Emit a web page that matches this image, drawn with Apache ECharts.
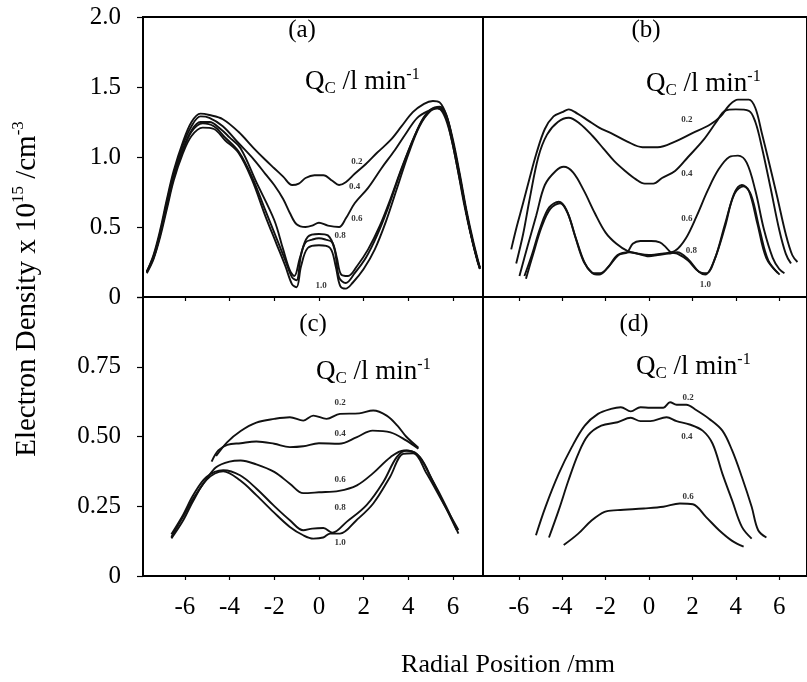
<!DOCTYPE html>
<html><head><meta charset="utf-8">
<script src="https://cdn.jsdelivr.net/npm/echarts@6/dist/echarts.min.js"></script>
<style>html,body{margin:0;padding:0;background:#fff}#c{width:807px;height:682px}</style>
</head><body><div id="c"></div>
<script>
// ---- tick values ----
const xTicks = [-6, -4, -2, 0, 2, 4, 6];

// ---- panel (a) : x (mm), electron density (1e15 /cm3) ----
const a02 = [[-7.7,0.18],[-7.4,0.30],[-7.1,0.48],[-6.8,0.70],[-6.5,0.90],[-6.1,1.10],[-5.7,1.25],[-5.3,1.31],[-4.9,1.30],[-4.3,1.27],[-3.6,1.18],[-2.9,1.06],[-2.4,0.98],[-2.0,0.92],[-1.6,0.86],[-1.2,0.80],[-0.9,0.81],[-0.6,0.85],[-0.2,0.87],[0.2,0.87],[0.6,0.83],[0.9,0.80],[1.2,0.82],[1.6,0.88],[2.1,0.95],[2.6,1.03],[3.2,1.12],[3.7,1.22],[4.2,1.32],[4.7,1.38],[5.1,1.40],[5.4,1.39],[5.7,1.30],[6.0,1.12],[6.3,0.88],[6.6,0.62],[6.9,0.40],[7.2,0.21]];
const a04 = [[-7.7,0.18],[-7.4,0.29],[-7.1,0.46],[-6.8,0.68],[-6.5,0.88],[-6.1,1.08],[-5.7,1.22],[-5.3,1.29],[-4.9,1.28],[-4.3,1.22],[-3.6,1.10],[-2.9,0.98],[-2.4,0.88],[-2.0,0.80],[-1.6,0.70],[-1.3,0.60],[-1.0,0.52],[-0.6,0.50],[-0.3,0.51],[0.0,0.53],[0.4,0.51],[0.9,0.50],[1.2,0.56],[1.6,0.67],[2.2,0.78],[2.8,0.92],[3.4,1.05],[3.9,1.17],[4.4,1.28],[4.9,1.33],[5.3,1.35],[5.6,1.30],[5.9,1.15],[6.2,0.92],[6.5,0.68],[6.8,0.45],[7.1,0.26],[7.2,0.21]];
const a06 = [[-7.7,0.18],[-7.4,0.28],[-7.1,0.45],[-6.8,0.66],[-6.5,0.86],[-6.1,1.05],[-5.7,1.19],[-5.3,1.25],[-4.9,1.25],[-4.4,1.20],[-4.0,1.14],[-3.5,1.06],[-2.8,0.82],[-2.0,0.55],[-1.6,0.34],[-1.3,0.19],[-1.1,0.15],[-0.85,0.28],[-0.6,0.39],[-0.3,0.41],[0.0,0.42],[0.3,0.41],[0.6,0.39],[0.8,0.28],[1.0,0.16],[1.3,0.15],[1.7,0.22],[2.2,0.34],[2.7,0.50],[3.2,0.70],[3.7,0.92],[4.2,1.12],[4.7,1.28],[5.2,1.35],[5.6,1.32],[5.9,1.15],[6.2,0.92],[6.5,0.66],[6.8,0.44],[7.1,0.25],[7.2,0.21]];
const a08 = [[-7.7,0.18],[-7.4,0.28],[-7.1,0.45],[-6.8,0.65],[-6.5,0.85],[-6.1,1.04],[-5.7,1.18],[-5.2,1.24],[-4.7,1.22],[-4.2,1.14],[-3.6,1.04],[-3.0,0.86],[-2.4,0.62],[-1.9,0.42],[-1.5,0.26],[-1.2,0.14],[-1.0,0.12],[-0.8,0.30],[-0.5,0.43],[0.0,0.45],[0.4,0.44],[0.7,0.34],[0.9,0.14],[1.2,0.10],[1.6,0.17],[2.1,0.28],[2.6,0.44],[3.1,0.64],[3.6,0.87],[4.1,1.08],[4.6,1.26],[5.0,1.34],[5.4,1.36],[5.7,1.30],[6.0,1.10],[6.3,0.86],[6.6,0.60],[6.9,0.38],[7.2,0.20]];
const a10 = [[-7.7,0.17],[-7.4,0.27],[-7.1,0.43],[-6.8,0.63],[-6.5,0.83],[-6.1,1.02],[-5.7,1.15],[-5.2,1.21],[-4.7,1.20],[-4.2,1.12],[-3.6,1.03],[-3.0,0.84],[-2.4,0.58],[-1.9,0.38],[-1.5,0.22],[-1.2,0.09],[-1.0,0.07],[-0.8,0.22],[-0.5,0.35],[0.0,0.37],[0.5,0.35],[0.75,0.22],[0.95,0.08],[1.2,0.06],[1.5,0.10],[2.0,0.20],[2.5,0.34],[3.0,0.54],[3.5,0.78],[4.0,1.02],[4.5,1.22],[5.0,1.33],[5.4,1.35],[5.7,1.29],[6.0,1.10],[6.3,0.86],[6.6,0.60],[6.9,0.38],[7.2,0.20]];

// ---- panel (b) ----
const b02 = [[-6.35,0.34],[-6.1,0.50],[-5.82,0.66],[-5.5,0.85],[-5.2,1.02],[-4.8,1.20],[-4.4,1.29],[-4.0,1.32],[-3.7,1.34],[-3.3,1.31],[-2.8,1.26],[-2.3,1.21],[-1.75,1.17],[-1.0,1.11],[-0.3,1.07],[0.4,1.07],[1.2,1.11],[2.0,1.17],[2.8,1.23],[3.3,1.29],[3.7,1.37],[4.1,1.41],[4.6,1.41],[4.9,1.35],[5.2,1.17],[5.5,0.98],[5.9,0.72],[6.3,0.45],[6.6,0.30],[6.84,0.25]];
const b04 = [[-6.12,0.24],[-5.8,0.45],[-5.5,0.70],[-5.1,1.00],[-4.7,1.16],[-4.2,1.25],[-3.7,1.28],[-3.2,1.24],[-2.6,1.15],[-2.1,1.06],[-1.6,0.97],[-1.1,0.90],[-0.6,0.84],[-0.2,0.81],[0.2,0.81],[0.6,0.85],[1.2,0.90],[1.8,1.00],[2.5,1.12],[3.1,1.25],[3.5,1.33],[4.0,1.34],[4.6,1.33],[4.9,1.25],[5.2,1.07],[5.6,0.78],[6.0,0.48],[6.3,0.31],[6.54,0.24]];
const b06 = [[-5.97,0.15],[-5.6,0.36],[-5.2,0.58],[-4.8,0.80],[-4.3,0.90],[-3.93,0.93],[-3.5,0.89],[-3.0,0.76],[-2.5,0.60],[-2.0,0.46],[-1.5,0.38],[-1.0,0.33],[-0.5,0.31],[0.0,0.30],[0.6,0.31],[1.2,0.33],[1.7,0.42],[2.2,0.58],[2.7,0.76],[3.2,0.91],[3.7,1.00],[4.1,1.01],[4.5,0.96],[4.9,0.76],[5.3,0.48],[5.7,0.28],[6.0,0.20],[6.24,0.17]];
const b08 = [[-5.67,0.13],[-5.35,0.30],[-4.95,0.50],[-4.55,0.63],[-4.1,0.67],[-3.75,0.60],[-3.35,0.41],[-2.95,0.24],[-2.55,0.17],[-2.25,0.17],[-1.85,0.22],[-1.4,0.30],[-1.0,0.32],[-0.75,0.38],[-0.4,0.40],[0.1,0.40],[0.5,0.39],[0.75,0.36],[1.0,0.32],[1.3,0.31],[1.8,0.26],[2.3,0.18],[2.65,0.17],[3.05,0.28],[3.5,0.52],[3.95,0.74],[4.35,0.79],[4.7,0.73],[5.1,0.48],[5.5,0.26],[6.02,0.16]];
const b10 = [[-5.74,0.15],[-5.4,0.30],[-5.0,0.50],[-4.6,0.64],[-4.16,0.68],[-3.8,0.62],[-3.4,0.43],[-3.0,0.25],[-2.6,0.17],[-2.3,0.16],[-1.9,0.21],[-1.45,0.30],[-0.9,0.32],[-0.3,0.30],[0.0,0.29],[0.4,0.30],[0.9,0.31],[1.3,0.32],[1.8,0.27],[2.3,0.18],[2.6,0.16],[3.0,0.26],[3.5,0.50],[3.9,0.73],[4.28,0.80],[4.6,0.76],[5.0,0.52],[5.4,0.28],[5.94,0.17]];

// ---- panel (c) ----
const c02 = [[-4.6,0.43],[-4.1,0.48],[-3.5,0.52],[-2.8,0.55],[-2.0,0.563],[-1.3,0.569],[-0.7,0.557],[-0.25,0.575],[0.34,0.563],[0.94,0.581],[1.8,0.583],[2.43,0.593],[3.03,0.575],[3.5,0.54],[3.9,0.50],[4.45,0.46]];
const c04 = [[-4.8,0.41],[-4.5,0.45],[-4.1,0.47],[-3.5,0.476],[-2.8,0.482],[-2.0,0.474],[-1.3,0.462],[-0.7,0.465],[0.0,0.476],[0.9,0.474],[1.7,0.498],[2.4,0.521],[3.2,0.515],[3.9,0.486],[4.45,0.456]];
const c06 = [[-6.6,0.14],[-6.1,0.21],[-5.6,0.28],[-5.0,0.35],[-4.6,0.39],[-4.0,0.41],[-3.5,0.414],[-2.8,0.40],[-2.0,0.373],[-1.3,0.331],[-0.7,0.297],[0.0,0.30],[0.9,0.305],[1.7,0.325],[2.4,0.367],[3.2,0.426],[3.8,0.45],[4.4,0.436],[5.0,0.355],[5.7,0.248],[6.24,0.152]];
const c08 = [[-6.6,0.15],[-6.07,0.22],[-5.62,0.29],[-5.03,0.355],[-4.28,0.379],[-3.53,0.361],[-2.79,0.313],[-2.04,0.254],[-1.3,0.20],[-0.7,0.164],[-0.3,0.17],[0.2,0.172],[0.6,0.155],[1.24,0.194],[2.13,0.254],[2.88,0.337],[3.48,0.426],[3.92,0.45],[4.52,0.426],[5.12,0.335],[5.71,0.24],[6.16,0.165]];
const c10 = [[-6.6,0.135],[-6.07,0.20],[-5.62,0.27],[-5.03,0.345],[-4.28,0.375],[-3.53,0.343],[-2.79,0.289],[-2.04,0.23],[-1.3,0.176],[-0.7,0.146],[-0.25,0.134],[0.19,0.138],[0.5,0.152],[0.94,0.152],[1.68,0.20],[2.43,0.26],[3.18,0.355],[3.77,0.438],[4.22,0.44],[4.82,0.367],[5.57,0.26],[6.24,0.165]];

// ---- panel (d) ----
const d02 = [[-5.21,0.146],[-4.77,0.248],[-4.16,0.367],[-3.56,0.462],[-2.96,0.539],[-2.35,0.581],[-1.75,0.599],[-1.3,0.605],[-0.84,0.59],[-0.39,0.605],[0.06,0.603],[0.66,0.603],[0.97,0.623],[1.27,0.614],[1.72,0.614],[2.17,0.595],[2.78,0.563],[3.38,0.521],[3.83,0.45],[4.28,0.355],[4.73,0.248],[5.03,0.164],[5.41,0.138]];
const d04 = [[-4.61,0.138],[-4.16,0.236],[-3.71,0.343],[-3.26,0.438],[-2.81,0.504],[-2.2,0.539],[-1.45,0.551],[-0.84,0.567],[-0.39,0.555],[0.06,0.555],[0.81,0.569],[1.27,0.555],[1.87,0.543],[2.47,0.521],[2.93,0.474],[3.38,0.367],[3.83,0.271],[4.28,0.176],[4.73,0.134]];
const d06 = [[-3.93,0.111],[-3.26,0.152],[-2.66,0.198],[-2.05,0.23],[-1.45,0.236],[-0.24,0.242],[0.66,0.248],[1.42,0.26],[2.02,0.257],[2.62,0.212],[3.23,0.164],[3.83,0.126],[4.36,0.105]];

// ---- curve annotations: flow rate, x, density ----
const labelsA = [['0.2',1.7,0.97],['0.4',1.6,0.79],['0.6',1.7,0.56],['0.8',0.95,0.44],['1.0',0.1,0.08]];
const labelsB = [['0.2',1.75,1.27],['0.4',1.75,0.88],['0.6',1.75,0.56],['0.8',1.95,0.33],['1.0',2.6,0.09]];
const labelsC = [['0.2',0.95,0.62],['0.4',0.95,0.51],['0.6',0.95,0.345],['0.8',0.95,0.245],['1.0',0.95,0.12]];
const labelsD = [['0.2',1.8,0.64],['0.4',1.75,0.50],['0.6',1.8,0.285]];

const SERIF = '"Liberation Serif", "DejaVu Serif", serif';
const panels = [
  {curves:[a02,a04,a06,a08,a10], labels:labelsA},
  {curves:[b02,b04,b06,b08,b10], labels:labelsB},
  {curves:[c02,c04,c06,c08,c10], labels:labelsC},
  {curves:[d02,d04,d06], labels:labelsD}
];

const grids = [
  {left:143, top:17, width:340, height:280},
  {left:483, top:17, width:330, height:280},
  {left:143, top:297, width:340, height:279},
  {left:483, top:297, width:330, height:279}
].map(g => Object.assign({show:true, borderColor:'#000', borderWidth:2, backgroundColor:'transparent'}, g));

const xRanges = [[-7.87,7.34],[-7.65,7.28],[-7.87,7.34],[-7.65,7.28]];
const xAxes = xRanges.map((r,i) => ({
  gridIndex:i, type:'value', min:r[0], max:r[1],
  axisLine:{show:true, onZero:false, lineStyle:{color:'#000', width:2}},
  axisTick:{show:true, customValues:xTicks, length:4, lineStyle:{color:'#000', width:1.2}},
  axisLabel:{show:i>=2, customValues:xTicks, margin:19, fontSize:25, color:'#000', fontFamily:SERIF},
  splitLine:{show:false}
}));
const yAxes = [0,1,2,3].map(i => {
  const top = i < 2, left = (i % 2 === 0);
  return {
    gridIndex:i, type:'value', min:0, max: top ? 2 : 1, interval: top ? 0.5 : 0.25,
    axisLine:{show:true, onZero:false, lineStyle:{color:'#000', width:2}},
    axisTick:{show:left, length:6, lineStyle:{color:'#000', width:1.2}},
    axisLabel:{show:left, margin:22, fontSize:25, color:'#000', fontFamily:SERIF,
      formatter: v => v === 0 ? '0' : (top ? v.toFixed(1) : (v >= 1 ? '' : v.toFixed(2)))},
    splitLine:{show:false}
  };
});

const series = [];
panels.forEach((p, i) => {
  p.curves.forEach(c => series.push({
    type:'line', xAxisIndex:i, yAxisIndex:i, data:c, smooth:0.35, showSymbol:false,
    lineStyle:{color:'#111', width:1.9}, silent:true
  }));
  series.push({
    type:'scatter', xAxisIndex:i, yAxisIndex:i, symbolSize:1, silent:true,
    itemStyle:{color:'transparent'},
    data:p.labels.map(l => [l[1], l[2], l[0]]),
    label:{show:true, position:'inside', formatter: q => q.value[2], fontSize:9, fontWeight:'bold', color:'#000', fontFamily:SERIF}
  });
});

const qRich = {
  q:{fontSize:27, fontFamily:SERIF, fill:'#000', lineHeight:31},
  s:{fontSize:17, fontFamily:SERIF, fill:'#000', verticalAlign:'bottom', lineHeight:31},
  p:{fontSize:16, fontFamily:SERIF, fill:'#000', verticalAlign:'top', lineHeight:31}
};
const qText = '{q|Q}{s|C}{q| /l min}{p|-1}';
function qLabel(x, y){ return {type:'text', x:x, y:y, style:{text:qText, rich:qRich, align:'left', verticalAlign:'middle'}}; }
function tLabel(t, x, y){ return {type:'text', x:x, y:y, style:{text:t, font:'25px ' + SERIF, fill:'#000', align:'center', verticalAlign:'middle'}}; }

const chart = echarts.init(document.getElementById('c'));
chart.setOption({
  animation:false,
  backgroundColor:'#fff',
  grid:grids, xAxis:xAxes, yAxis:yAxes, series:series,
  graphic:[
    tLabel('(a)', 302, 30), tLabel('(b)', 646, 30), tLabel('(c)', 313, 324), tLabel('(d)', 634, 324),
    qLabel(305, 82), qLabel(646, 84), qLabel(316, 372), qLabel(636, 367),
    {type:'text', x:508, y:665, style:{text:'Radial Position /mm', font:'26px ' + SERIF, fill:'#000', align:'center', verticalAlign:'middle'}},
    {type:'text', x:27, y:289, rotation:Math.PI/2,
      style:{text:'{b|Electron Density x 10}{p|15}{b| /cm}{p|-3}', align:'center', verticalAlign:'middle',
        rich:{b:{fontSize:29, fontFamily:SERIF, fill:'#000', lineHeight:34}, p:{fontSize:17, fontFamily:SERIF, fill:'#000', verticalAlign:'top', lineHeight:34}}}}
  ]
});
</script></body></html>
